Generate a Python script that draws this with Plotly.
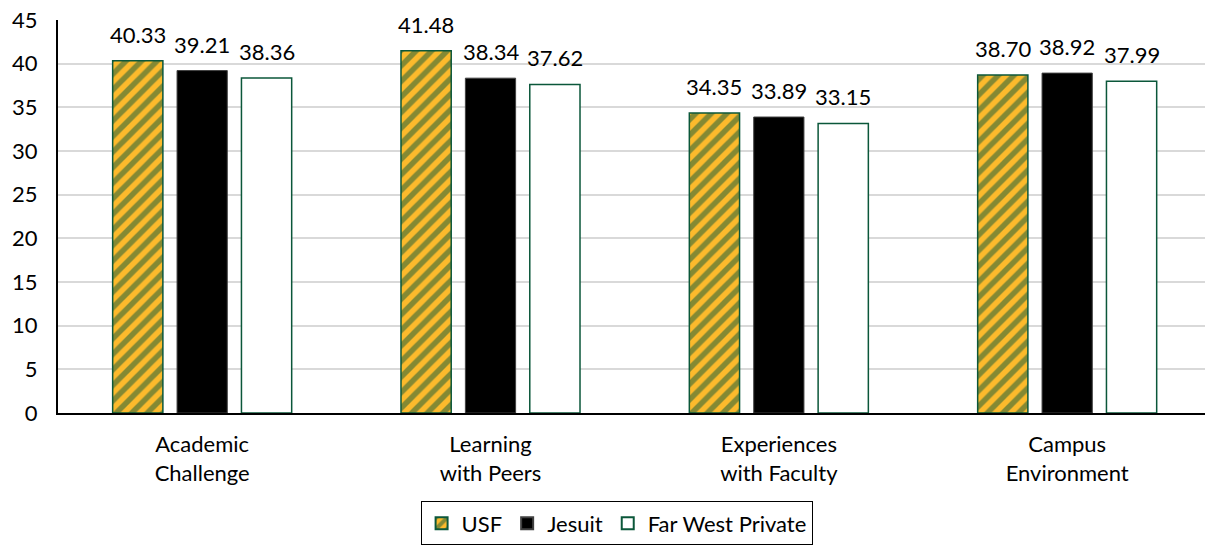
import plotly.graph_objects as go

categories = ["Academic<br>Challenge", "Learning<br>with Peers", "Experiences<br>with Faculty", "Campus<br>Environment"]
series_names = ["USF", "Jesuit", "Far West Private"]
usf = [40.33, 41.48, 34.35, 38.70]
jesuit = [39.21, 38.34, 33.89, 38.92]
fwp = [38.36, 37.62, 33.15, 37.99]
y_ticks = [0, 5, 10, 15, 20, 25, 30, 35, 40, 45]

GREEN = "#0B573A"
GOLD = "#FCBA2C"
FONT = "Lato"
BARGAP = 0.33
BARGROUPGAP = 0.22

fig = go.Figure()
fig.add_trace(go.Bar(
    name=series_names[0], x=categories, y=usf,
    marker=dict(color=GOLD, line=dict(color=GREEN, width=1.5),
                pattern=dict(shape="/", fgcolor=GREEN, bgcolor=GOLD, size=11, solidity=0.5, fillmode="overlay")),
))
fig.add_trace(go.Bar(
    name=series_names[1], x=categories, y=jesuit,
    marker=dict(color="#000000", line=dict(color="#404040", width=1)),
))
fig.add_trace(go.Bar(
    name=series_names[2], x=categories, y=fwp,
    marker=dict(color="#FFFFFF", line=dict(color=GREEN, width=1.5)),
))

# data labels above bars
slot = (1 - BARGAP) / 3
annotations = []
for k, vals in enumerate([usf, jesuit, fwp]):
    for i, v in enumerate(vals):
        annotations.append(dict(
            x=i + (k - 1) * slot, y=v, xref="x", yref="y",
            text=f"{v:.2f}", showarrow=False, yanchor="bottom", yshift=11,
            font=dict(family=FONT, size=22, color="#000000"),
        ))

fig.update_layout(
    width=1205, height=546,
    margin=dict(l=58, r=0, t=20, b=133),
    paper_bgcolor="white", plot_bgcolor="white",
    barmode="group", bargap=BARGAP, bargroupgap=BARGROUPGAP,
    font=dict(family=FONT, size=22, color="#000000"),
    showlegend=True,
    annotations=annotations,
    legend=dict(orientation="h", x=0.487, xanchor="center", y=-0.225, yanchor="top",
                bordercolor="#000000", borderwidth=1, font=dict(size=22),
                itemsizing="constant", traceorder="normal", itemwidth=30,
                tracegroupgap=0),
    xaxis=dict(showline=True, linecolor="#000000", linewidth=2, ticks="", showgrid=False,
               tickfont=dict(size=22), range=[-0.5, 3.478], ticklabelstandoff=11),
    yaxis=dict(range=[0, 45], tickvals=y_ticks, showline=True, linecolor="#000000", linewidth=2,
               showgrid=True, gridcolor="#D9D9D9", gridwidth=2, ticks="", zeroline=False,
               tickfont=dict(size=22), ticklabelstandoff=14),
)

fig.write_html("out.html")
